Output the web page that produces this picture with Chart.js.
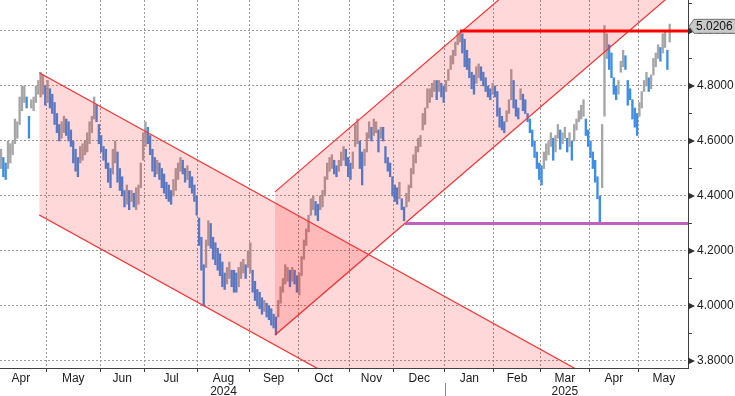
<!DOCTYPE html>
<html>
<head>
<meta charset="utf-8">
<script src="https://cdn.jsdelivr.net/npm/chart.js@4"></script>
<style>
    html, body { margin: 0; padding: 0; background: #fff; }
    #wrap { width: 735px; height: 396px; position: relative; }
</style>
</head>
<body>
<div id="wrap"><canvas id="mainChart"></canvas></div>
<script>
// month labels and the bar index where each month starts (last one = end of data)
let months = ["Apr", "May", "Jun", "Jul", ["Aug", "2024"], "Sep", "Oct", "Nov", "Dec", "Jan", "Feb", ["Mar", "2025"], "Apr", "May"];
let monthStarts = [-2, 20, 43, 62, 85, 107, 128, 150, 169, 191, 212, 232, 253, 274, 296];
let yearBreak = 191;

let yTicks = [3.8, 3.9, 4.0, 4.1, 4.2, 4.3, 4.4, 4.5, 4.6, 4.7, 4.8, 4.9, 5.0, 5.1];

// daily low / high, one per trading day
let lows = [
    4.50,4.47,4.46,4.50,4.52,4.55,4.59,4.61,4.66,4.71,
    4.74,4.72,4.61,4.72,4.71,4.74,4.77,4.76,4.77,4.73,
    4.74,4.72,4.70,4.66,4.63,4.60,4.61,4.63,4.62,4.60,
    4.58,4.52,4.49,4.47,4.52,4.53,4.55,4.56,4.59,4.63,
    4.68,4.67,4.59,4.56,4.53,4.50,4.45,4.43,4.48,4.52,
    4.45,4.42,4.40,4.36,4.37,4.35,4.38,4.36,4.35,4.37,
    4.43,4.53,4.58,4.59,4.55,4.49,4.47,4.48,4.46,4.43,
    4.41,4.39,4.38,4.37,4.40,4.42,4.46,4.49,4.48,4.45,
    4.46,4.43,4.41,4.38,4.33,4.22,4.13,4.00,4.14,4.22,
    4.21,4.17,4.15,4.13,4.11,4.07,4.06,4.08,4.10,4.07,
    4.05,4.05,4.07,4.10,4.12,4.10,4.14,4.12,4.05,4.02,
    4.00,3.99,3.97,3.98,3.96,3.95,3.93,3.92,3.895,3.96,
    4.01,4.05,4.08,4.09,4.07,4.09,4.08,4.05,4.04,4.11,
    4.17,4.22,4.27,4.33,4.35,4.33,4.31,4.35,4.36,4.40,
    4.46,4.49,4.50,4.48,4.47,4.49,4.51,4.53,4.51,4.47,
    4.46,4.50,4.58,4.59,4.50,4.44,4.51,4.56,4.61,4.60,
    4.62,4.63,4.56,4.61,4.60,4.52,4.49,4.47,4.40,4.38,
    4.37,4.39,4.35,4.31,4.36,4.38,4.43,4.48,4.52,4.56,
    4.58,4.64,4.66,4.72,4.74,4.76,4.78,4.75,4.78,4.76,
    4.74,4.78,4.82,4.86,4.88,4.91,4.95,4.96,4.92,4.87,
    4.86,4.83,4.79,4.77,4.81,4.83,4.82,4.80,4.78,4.76,
    4.75,4.77,4.76,4.69,4.65,4.64,4.63,4.67,4.70,4.75,
    4.72,4.69,4.68,4.75,4.71,4.70,4.67,4.63,4.58,4.54,
    4.50,4.46,4.44,4.50,4.53,4.55,4.58,4.53,4.56,4.61,
    4.57,4.59,4.61,4.56,4.58,4.53,4.60,4.64,4.67,4.68,
    4.69,4.62,4.58,4.54,4.50,4.45,4.39,4.30,4.43,4.69,
    4.90,4.86,4.83,4.77,4.75,4.77,4.85,4.87,4.86,4.73,
    4.75,4.68,4.65,4.62,4.69,4.72,4.78,4.80,4.78,4.79,
    4.84,4.87,4.90,4.89,4.92,4.94,4.86,4.96
];
let highs = [
    4.57,4.54,4.52,4.60,4.59,4.60,4.68,4.67,4.76,4.80,
    4.80,4.76,4.69,4.75,4.76,4.80,4.82,4.85,4.84,4.80,
    4.82,4.79,4.77,4.74,4.70,4.66,4.67,4.69,4.68,4.67,
    4.64,4.60,4.57,4.54,4.58,4.59,4.60,4.63,4.67,4.69,
    4.76,4.73,4.66,4.62,4.58,4.57,4.52,4.50,4.57,4.60,
    4.56,4.50,4.47,4.42,4.44,4.42,4.42,4.41,4.43,4.44,
    4.52,4.63,4.67,4.65,4.62,4.57,4.54,4.53,4.52,4.50,
    4.48,4.45,4.44,4.42,4.46,4.50,4.52,4.54,4.53,4.50,
    4.51,4.49,4.47,4.44,4.40,4.32,4.25,4.15,4.24,4.31,
    4.30,4.25,4.23,4.21,4.19,4.16,4.12,4.14,4.16,4.13,
    4.13,4.12,4.14,4.16,4.17,4.15,4.20,4.23,4.13,4.09,
    4.06,4.05,4.03,4.02,4.01,4.00,3.99,3.97,3.96,4.02,
    4.07,4.10,4.15,4.14,4.13,4.14,4.13,4.11,4.12,4.18,
    4.24,4.28,4.33,4.39,4.40,4.38,4.37,4.40,4.42,4.47,
    4.52,4.54,4.55,4.53,4.51,4.53,4.56,4.58,4.57,4.54,
    4.52,4.56,4.66,4.68,4.60,4.56,4.57,4.63,4.67,4.65,
    4.68,4.67,4.64,4.65,4.65,4.58,4.54,4.52,4.47,4.44,
    4.43,4.45,4.39,4.36,4.41,4.44,4.50,4.55,4.58,4.61,
    4.62,4.70,4.72,4.79,4.79,4.81,4.82,4.82,4.82,4.81,
    4.80,4.82,4.86,4.91,4.93,4.96,5.00,5.00,4.99,4.97,
    4.93,4.90,4.85,4.84,4.87,4.88,4.87,4.85,4.83,4.80,
    4.79,4.81,4.80,4.78,4.72,4.69,4.67,4.71,4.75,4.86,
    4.82,4.75,4.72,4.79,4.77,4.75,4.70,4.68,4.64,4.60,
    4.56,4.52,4.51,4.56,4.59,4.60,4.63,4.61,4.62,4.66,
    4.64,4.63,4.65,4.61,4.63,4.60,4.66,4.68,4.71,4.73,
    4.75,4.68,4.64,4.60,4.56,4.53,4.47,4.40,4.66,5.02,
    4.99,4.95,4.92,4.83,4.80,4.82,4.89,4.93,4.91,4.82,
    4.79,4.75,4.72,4.70,4.74,4.78,4.82,4.85,4.83,4.84,
    4.90,4.92,4.95,4.94,4.99,5.00,4.93,5.025
];

let lastPrice = 5.0206;

// trend channels and levels (x = bar index, y = price)
let downUpper = [{x: 16.4, y: 4.848}, {x: 300, y: 3.522}];
let downLower = [{x: 16.4, y: 4.331}, {x: 300, y: 3.005}];
let upUpper = [{x: 117.6, y: 4.415}, {x: 300, y: 5.742}];
let upLower = [{x: 117.6, y: 3.8945}, {x: 300, y: 5.222}];
let topLevel = [{x: 197, y: 5.0}, {x: 300, y: 5.0}];
let supportLevel = [{x: 173.4, y: 4.30}, {x: 300, y: 4.30}];

let bars = lows.map((lo, i) => ({x: i, y: [lo, highs[i]]}));
let barColors = lows.map((lo, i) => {
    if (i == 0) return "#a6a6a6";
    let mid = (lo + highs[i]) / 2;
    let prev = (lows[i - 1] + highs[i - 1]) / 2;
    return mid < prev ? "#3d8ee6" : "#a6a6a6";
});

// x ticks: month boundaries (grid lines) and month centres (labels)
let xTicks = [];
months.forEach((m, k) => {
    if (k > 0) xTicks.push({value: monthStarts[k] - 0.5, label: "", grid: true});
    xTicks.push({value: (monthStarts[k] + monthStarts[k + 1]) / 2 - 0.5, label: m, grid: false});
});

function isMajor(v) {
    return Math.round(v * 10) % 2 == 0;
}

function noPadding(s) {
    s.paddingTop = 0;
    s.paddingBottom = 0;
    s.paddingLeft = 0;
    s.paddingRight = 0;
}

let marks = {
    id: "marks",
    afterDraw(chart) {
        let ctx = chart.ctx;
        let y = chart.scales.y;
        let x = chart.scales.x;
        let right = chart.chartArea.right;
        ctx.save();
        ctx.fillStyle = "#303030";
        y.ticks.forEach(t => {
            if (!isMajor(t.value)) return;
            let py = y.getPixelForValue(t.value);
            ctx.beginPath();
            ctx.moveTo(right, py - 3.5);
            ctx.lineTo(right + 7, py);
            ctx.lineTo(right, py + 3.5);
            ctx.closePath();
            ctx.fill();
        });

        // year separator under the axis
        let px = Math.round(x.getPixelForValue(yearBreak - 0.5)) + 0.5;
        ctx.strokeStyle = "#8a8a8a";
        ctx.lineWidth = 1;
        ctx.beginPath();
        ctx.moveTo(px, chart.chartArea.bottom + 15);
        ctx.lineTo(px, chart.height);
        ctx.stroke();

        // last price tag
        let py = y.getPixelForValue(lastPrice) + 1;
        ctx.beginPath();
        ctx.moveTo(right + 1, py);
        ctx.lineTo(right + 6, py - 7);
        ctx.lineTo(chart.width + 2, py - 7);
        ctx.lineTo(chart.width + 2, py + 7);
        ctx.lineTo(right + 6, py + 7);
        ctx.closePath();
        ctx.fillStyle = "#c9c9c9";
        ctx.fill();
        ctx.strokeStyle = "#6e6e6e";
        ctx.stroke();
        ctx.fillStyle = "#111";
        ctx.font = "12px 'Liberation Sans'";
        ctx.textBaseline = "middle";
        ctx.fillText(lastPrice.toFixed(4), right + 8, py + 0.5);
        ctx.restore();
    }
};

function lineSet(data, color, width, fill) {
    return {
        type: "line",
        data: data,
        borderColor: color,
        borderWidth: width,
        pointRadius: 0,
        fill: fill ? "+1" : false,
        backgroundColor: "rgba(255,0,0,0.15)",
        tension: 0,
        clip: 0,
        order: 0
    };
}

let ctx = document.getElementById("mainChart").getContext("2d");

let levels = [lineSet(topLevel, "#ff0000", 3, false), lineSet(supportLevel, "#c060c0", 3, false)];
levels.forEach(d => d.order = -1);

window.chart = new Chart(ctx, {
    type: "bar",
    data: {
        datasets: [
            {
                type: "bar",
                data: bars,
                backgroundColor: barColors,
                borderWidth: 0,
                barThickness: 1.7,
                grouped: false,
                order: 10
            },
            lineSet(downUpper, "#ff3030", 1.2, true),
            lineSet(downLower, "#ff3030", 1.2, false),
            lineSet(upUpper, "#ff3030", 1.2, true),
            lineSet(upLower, "#ff3030", 1.2, false)
        ].concat(levels)
    },
    options: {
        responsive: true,
        maintainAspectRatio: false,
        animation: false,
        layout: { padding: 0 },
        plugins: { legend: { display: false }, tooltip: { enabled: false } },
        scales: {
            x: {
                type: "linear",
                min: -0.43,
                max: 294.85,
                offset: false,
                afterBuildTicks: s => { s.ticks = xTicks.map(t => ({value: t.value})); },
                afterFit: s => { s.height = 28; noPadding(s); },
                grid: {
                    offset: false,
                    color: c => (c.tick && xTicks[c.index] && xTicks[c.index].grid) ? "#9a9a9a" : "rgba(0,0,0,0)",
                    tickColor: c => (c.tick && xTicks[c.index] && xTicks[c.index].grid) ? "#404040" : "rgba(0,0,0,0)",
                    tickLength: 4,
                    tickBorderDash: []
                },
                border: { display: true, color: "#404040", width: 1, dash: [2, 2] },
                ticks: {
                    autoSkip: false,
                    maxRotation: 0,
                    padding: 0,
                    color: "#202020",
                    font: { family: "Liberation Sans", size: 12, lineHeight: 1.08 },
                    callback: (v, i) => xTicks[i] ? xTicks[i].label : ""
                }
            },
            y: {
                type: "linear",
                position: "right",
                min: 3.7745,
                max: 5.1127,
                afterBuildTicks: s => { s.ticks = yTicks.map(v => ({value: v})); },
                afterFit: s => { s.width = 47; noPadding(s); },
                grid: {
                    color: c => (c.tick && isMajor(c.tick.value)) ? "#9a9a9a" : "rgba(0,0,0,0)",
                    tickColor: c => (c.tick && isMajor(c.tick.value)) ? "rgba(0,0,0,0)" : "#404040",
                    tickLength: 4,
                    tickBorderDash: []
                },
                border: { display: true, color: "#404040", width: 1, dash: [2, 2] },
                ticks: {
                    padding: 5,
                    color: "#202020",
                    font: { family: "Liberation Sans", size: 12 },
                    callback: v => isMajor(v) ? v.toFixed(4) : ""
                }
            }
        }
    },
    plugins: [marks]
});
</script>
</body>
</html>
